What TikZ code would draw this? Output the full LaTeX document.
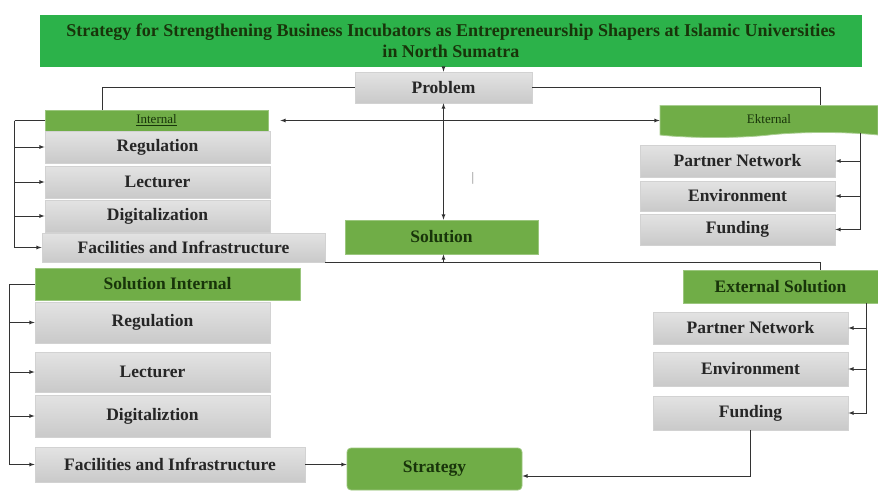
\documentclass[tikz,border=0pt]{standalone}
\usepackage{fontspec}
\setmainfont{Liberation Serif}
\usetikzlibrary{positioning,calc,arrows,shapes.symbols}

\definecolor{titlegreen}{RGB}{44,178,74}
\definecolor{boxgreen}{RGB}{112,173,71}
\definecolor{textgreen}{RGB}{24,52,10}

\begin{document}
\begin{tikzpicture}[x=1pt, y=-1pt,
	graybox/.style={rectangle, draw=gray!35, top color=gray!22, bottom color=gray!42, font=\fontsize{17.5}{19}\selectfont\bfseries, text=black!85},
	greenbox/.style={rectangle, fill=boxgreen, draw=boxgreen!70!white, font=\fontsize{17.5}{19}\selectfont\bfseries, text=textgreen},
	smallhead/.style={font=\fontsize{13}{15}\selectfont, text=textgreen},
	>=latex, line width=0.8pt, draw=black!80]
	\tikzstyle{every node}=[align=center, inner sep=1pt]
	\useasboundingbox (0,0) rectangle (878,490);

	\node[rectangle, fill=titlegreen, minimum width=822pt, minimum height=52pt, font=\fontsize{18}{21}\selectfont\bfseries, text=textgreen] (title) at (451,41) {Strategy for Strengthening Business Incubators as Entrepreneurship Shapers at Islamic Universities\\in North Sumatra};
	\node[graybox, minimum width=177pt, minimum height=31pt] (prob) at (443.5,87.5) {Problem};

	\node[greenbox, smallhead, minimum width=223pt, minimum height=21pt] (int) at (156.5,120.5) {\underline{Internal}};
	\node[graybox, minimum width=225pt, minimum height=32pt] (ireg) at (157.5,147) {Regulation};
	\node[graybox, minimum width=225pt, minimum height=32pt] (ilec) at (157.5,182) {Lecturer};
	\node[graybox, minimum width=225pt, minimum height=32pt] (idig) at (157.5,216) {Digitalization};
	\node[graybox, minimum width=283pt, minimum height=29pt] (ifac) at (183.5,247.5) {Facilities and Infrastructure};

	\node[tape, tape bend top=none, tape bend height=5pt, fill=boxgreen, draw=boxgreen!60!white, smallhead, minimum width=218pt, minimum height=32pt] (ext) at (769,119) {Ekternal};
	\node[graybox, minimum width=195pt, minimum height=32pt] (epar) at (737.5,161) {Partner Network};
	\node[graybox, minimum width=195pt, minimum height=30pt] (eenv) at (737.5,196) {Environment};
	\node[graybox, minimum width=195pt, minimum height=31pt] (efun) at (737.5,229.5) {Funding};

	\node[greenbox, minimum width=193pt, minimum height=34pt] (sol) at (441.5,237) {Solution};
	\node (cur) at (473,178) {\fontsize{13}{13}\selectfont\color{gray}|};

	\node[greenbox, minimum width=265pt, minimum height=32pt] (sint) at (167.5,284) {Solution Internal};
	\node[graybox, minimum width=235pt, minimum height=41pt] (sreg) at (152.5,322.5) {Regulation};
	\node[graybox, minimum width=235pt, minimum height=40pt] (slec) at (152.5,372) {Lecturer};
	\node[graybox, minimum width=235pt, minimum height=42pt] (sdig) at (152.5,416) {Digitaliztion};
	\node[graybox, minimum width=270pt, minimum height=35pt] (sfac) at (170,464.5) {Facilities and Infrastructure};

	\node[greenbox, rounded corners=4pt, minimum width=175pt, minimum height=42pt] (strat) at (434.5,469) {Strategy};

	\node[greenbox, minimum width=195pt, minimum height=33pt] (xsol) at (780.5,286.5) {External Solution};
	\node[graybox, minimum width=195pt, minimum height=32pt] (xpar) at (750.5,328) {Partner Network};
	\node[graybox, minimum width=195pt, minimum height=34pt] (xenv) at (750.5,369) {Environment};
	\node[graybox, minimum width=195pt, minimum height=34pt] (xfun) at (750.5,413) {Funding};

	\draw[->] (title.south -| prob.north) -- (prob.north);
	\draw (prob.west) -| ([xshift=-54.5pt]int.north);
	\draw (prob.east) -| ([xshift=51pt]ext.north);
	\draw[<->] (prob.south) -- (prob.south |- sol.north);
	\draw[<->] ([xshift=12pt]int.east) -- (ext.west |- int.east);

	\coordinate (il) at ([xshift=-30pt]int.west);
	\draw (int.west) -- (il);
	\foreach \n in {ireg,ilec,idig,ifac}
		\draw[->] (il) |- (\n.west);

	\coordinate (er) at (ext.south -| 860,0);
	\foreach \n in {epar,eenv,efun}
		\draw[->] (er) |- (\n.east);

	\draw (ifac.south east) -| ([xshift=39.5pt]xsol.north);
	\draw[->] (prob.south |- ifac.south) -- (prob.south |- sol.south);

	\coordinate (sl) at ([xshift=-25pt]sint.west);
	\draw (sint.west) -- (sl);
	\foreach \n in {sreg,slec,sdig,sfac}
		\draw[->] (sl) |- (\n.west);

	\coordinate (xr) at (xsol.south -| 866,0);
	\foreach \n in {xpar,xenv,xfun}
		\draw[->] (xr) |- (\n.east);

	\draw[->] (sfac.east) -- (strat.west |- sfac.east);
	\draw[->] (xfun.south) |- ([yshift=-7pt]strat.east);

\end{tikzpicture}
\end{document}
